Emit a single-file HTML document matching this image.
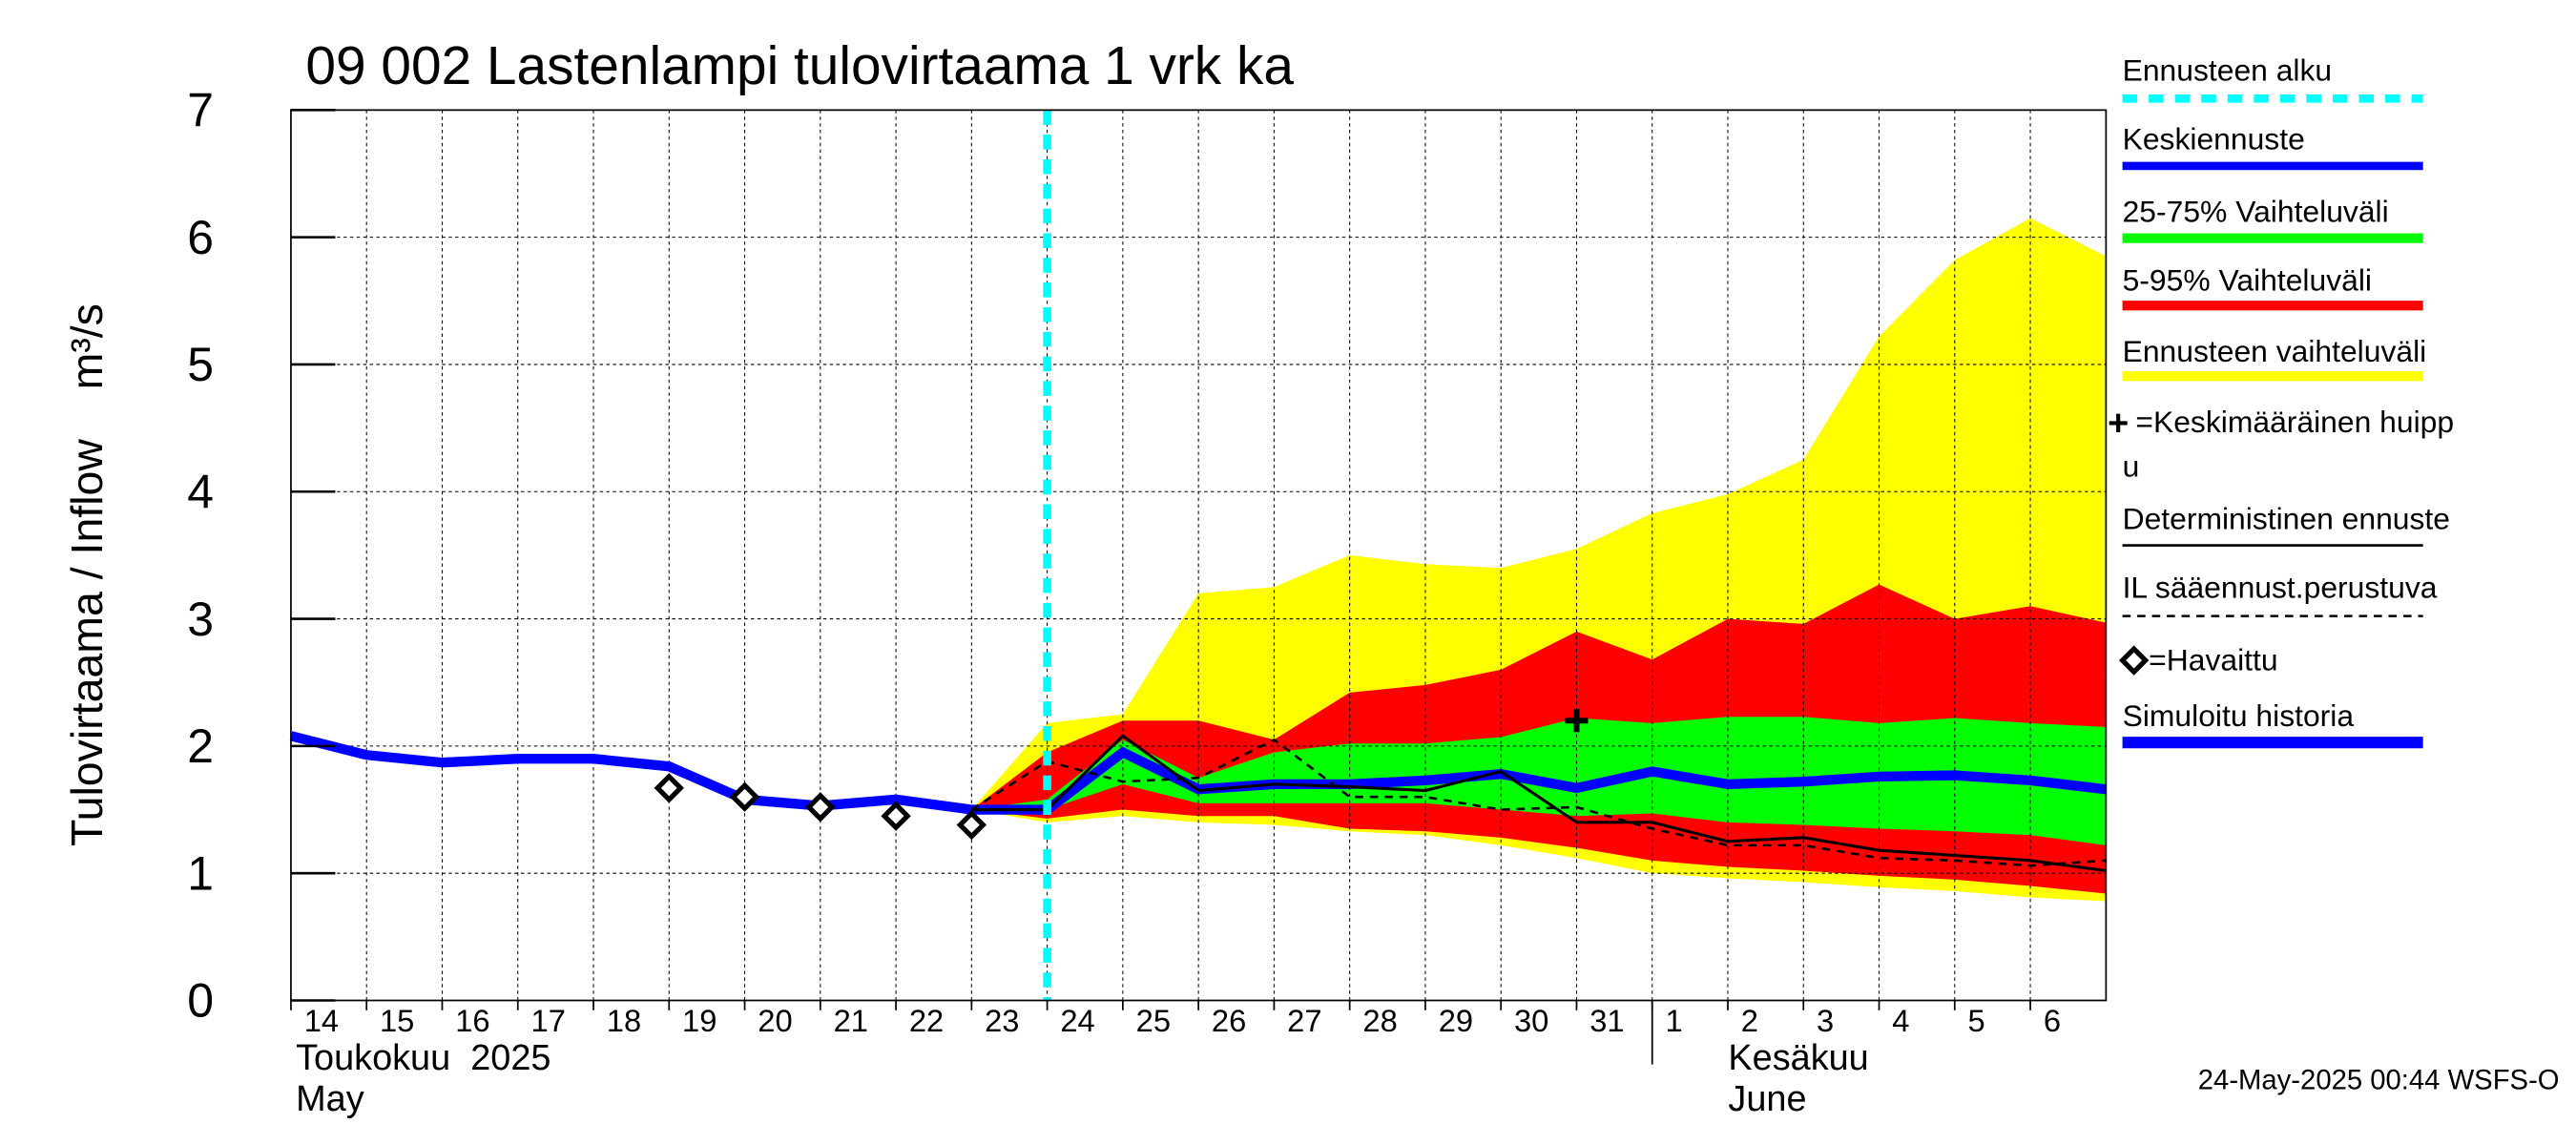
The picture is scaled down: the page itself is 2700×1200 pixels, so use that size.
<!DOCTYPE html>
<html><head><meta charset="utf-8"><style>
html,body{margin:0;padding:0;background:#fff;}
svg{display:block;font-family:"Liberation Sans",sans-serif;}
</style></head><body>
<svg id="chart" width="2700" height="1200" viewBox="0 0 1568 697" xmlns="http://www.w3.org/2000/svg">
<rect width="1568" height="697" fill="#fff"/>
<g id="bands"></g>
<g id="grid"></g>
<g id="lines"></g>
<rect x="177" y="67" width="1105" height="542" fill="none" stroke="#000" stroke-width="1"/>
<text x="186" y="51" font-size="33">09 002 Lastenlampi tulovirtaama 1 vrk ka</text>
<text transform="translate(62,350) rotate(-90)" text-anchor="middle" font-size="27">Tulovirtaama / Inflow&#160;&#160;&#160;&#160;m³/s</text>
<g id="yticks"></g>
<g id="xticks"></g>
<text x="180" y="651" font-size="22">Toukokuu&#160;&#160;2025</text>
<text x="180" y="676" font-size="22">May</text>
<text x="1052" y="651" font-size="22">Kesäkuu</text>
<text x="1052" y="676" font-size="22">June</text>
<text x="1558" y="663" text-anchor="end" font-size="17">24-May-2025 00:44 WSFS-O</text>
<g id="legend" font-size="18.5">
<g><text x="1292" y="49">Ennusteen alku</text><line x1="1292" y1="60" x2="1475" y2="60" stroke="#00ffff" stroke-width="5" stroke-dasharray="9,7"/></g>
<g><text x="1292" y="91">Keskiennuste</text><line x1="1292" y1="101" x2="1475" y2="101" stroke="#0000ff" stroke-width="5"/></g>
<g><text x="1292" y="135">25-75% Vaihteluväli</text><line x1="1292" y1="145" x2="1475" y2="145" stroke="#00ff00" stroke-width="6"/></g>
<g><text x="1292" y="177">5-95% Vaihteluväli</text><line x1="1292" y1="186" x2="1475" y2="186" stroke="#ff0000" stroke-width="6"/></g>
<g><text x="1292" y="220">Ennusteen vaihteluväli</text><line x1="1292" y1="229" x2="1475" y2="229" stroke="#ffff00" stroke-width="6"/></g>
<g><text x="1283" y="265" font-weight="bold" font-size="22">+</text><text x="1300" y="263">=Keskimääräinen huipp</text><text x="1292" y="290">u</text></g>
<g><text x="1292" y="322">Deterministinen ennuste</text><line x1="1292" y1="332" x2="1475" y2="332" stroke="#000" stroke-width="1.5"/></g>
<g><text x="1292" y="364">IL sääennust.perustuva</text><line x1="1292" y1="375" x2="1475" y2="375" stroke="#000" stroke-width="1.5" stroke-dasharray="5,4"/></g>
<g><path d="M1292,402 l7,-7 l7,7 l-7,7z" fill="none" stroke="#000" stroke-width="3"/><text x="1308" y="408">=Havaittu</text></g>
<g><text x="1292" y="442">Simuloitu historia</text><line x1="1292" y1="452" x2="1475" y2="452" stroke="#0000ff" stroke-width="7"/></g>
</g>
</svg>
<script>
const days=["14","15","16","17","18","19","20","21","22","23","24","25","26","27","28","29","30","31","1","2","3","4","5","6"];
const yTicks=[0,1,2,3,4,5,6,7];
const simulated=[2.08,1.93,1.87,1.90,1.90,1.84,1.58,1.53,1.58,1.50,1.50,1.95,1.66,1.70,1.70,1.73,1.78,1.67,1.80,1.70,1.72,1.76,1.77,1.73,1.66];
const observedIdx=[5,6,7,8,9];
const observedVal=[1.67,1.60,1.52,1.45,1.38];
const fcStart=9;
const yellowHi=[1.50,2.18,2.25,3.20,3.25,3.50,3.43,3.40,3.55,3.83,3.98,4.25,5.22,5.82,6.15,5.85];
const yellowLo=[1.50,1.40,1.45,1.40,1.38,1.33,1.30,1.22,1.12,1.00,0.96,0.93,0.89,0.86,0.81,0.78];
const redHi=[1.50,1.95,2.20,2.20,2.05,2.42,2.48,2.60,2.90,2.68,3.00,2.96,3.27,3.00,3.10,2.97];
const redLo=[1.50,1.43,1.50,1.45,1.45,1.35,1.33,1.28,1.20,1.10,1.05,1.02,0.98,0.95,0.90,0.84];
const greenHi=[1.50,1.58,2.05,1.75,1.95,2.02,2.02,2.07,2.22,2.18,2.23,2.23,2.18,2.22,2.18,2.15];
const greenLo=[1.50,1.50,1.70,1.55,1.55,1.55,1.55,1.50,1.45,1.47,1.40,1.38,1.35,1.33,1.30,1.22];
const determ=[1.50,1.50,2.08,1.65,1.70,1.68,1.65,1.80,1.40,1.40,1.25,1.28,1.18,1.14,1.10,1.02];
const ilDashed=[1.50,1.88,1.72,1.75,2.05,1.60,1.60,1.50,1.52,1.35,1.22,1.22,1.12,1.10,1.06,1.10];
const peakIdx=17, peakVal=2.2;
const forecastStartIdx=10;
const monthSplitIdx=18;

const NS="http://www.w3.org/2000/svg";
const X=i=>177+i*46.04;
const Y=v=>609-v*77.43;
function mk(tag,attrs,parent){const e=document.createElementNS(NS,tag);for(const k in attrs)e.setAttribute(k,attrs[k]);document.getElementById(parent).appendChild(e);return e;}
function band(hi,lo,color,name){
  let d="";hi.forEach((v,i)=>{d+=(i?"L":"M")+X(fcStart+i)+","+Y(v);});
  for(let i=lo.length-1;i>=0;i--)d+="L"+X(fcStart+i)+","+Y(lo[i]);
  const p=mk("path",{d:d+"Z",fill:color},"bands");
  
  
}
band(yellowHi,yellowLo,"#ffff00","band-forecast-range");
band(redHi,redLo,"#ff0000","band-5-95");
band(greenHi,greenLo,"#00ff00","band-25-75");
for(let i=1;i<=24;i++){const l=mk("line",{x1:X(i),x2:X(i),y1:67,y2:609,stroke:"#000","stroke-width":0.6,"stroke-dasharray":"2,2"},"grid");

}
yTicks.forEach(v=>{if(v>0&&v<7){const l=mk("line",{x1:177,x2:1282,y1:Y(v),y2:Y(v),stroke:"#000","stroke-width":0.6,"stroke-dasharray":"2,2"},"grid");

}
const t=mk("line",{x1:177,x2:204,y1:Y(v),y2:Y(v),stroke:"#000","stroke-width":1.5},"yticks");


const tx=mk("text",{x:130,y:Y(v)+10,"text-anchor":"end","font-size":29},"yticks");tx.textContent=v;

});
days.forEach((d,i)=>{const tx=mk("text",{x:X(i)+8,y:628,"font-size":19},"xticks");tx.textContent=d;


const tk=mk("line",{x1:X(i),x2:X(i),y1:609,y2:615,stroke:"#000"},"xticks");

});
const ms=mk("line",{x1:X(monthSplitIdx),x2:X(monthSplitIdx),y1:609,y2:648,stroke:"#000"},"xticks");


function line(vals,start,attrs,name){let d="";vals.forEach((v,i)=>{d+=(i?"L":"M")+X(start+i)+","+Y(v);});
const p=mk("path",Object.assign({d:d,fill:"none"},attrs),"lines");

}
line(simulated,0,{stroke:"#0000ff","stroke-width":6},"simulated-mean-line");
line(ilDashed,fcStart,{stroke:"#000","stroke-width":1.5,"stroke-dasharray":"5,4"},"il-weather-forecast-line");
line(determ,fcStart,{stroke:"#000","stroke-width":1.8},"deterministic-forecast-line");
const fl=mk("line",{x1:X(forecastStartIdx),x2:X(forecastStartIdx),y1:67,y2:609,stroke:"#00ffff","stroke-width":5,"stroke-dasharray":"9,6"},"lines");


observedIdx.forEach((i,k)=>{const x=X(i),y=Y(observedVal[k]);const p=mk("path",{d:`M${x-7},${y} L${x},${y-7} L${x+7},${y} L${x},${y+7}Z`,fill:"#fff",stroke:"#000","stroke-width":3},"lines");

});
const pk=mk("path",{d:`M${X(peakIdx)-7},${Y(peakVal)}h14M${X(peakIdx)},${Y(peakVal)-7}v14`,stroke:"#000","stroke-width":3.5},"lines");


</script>
</body></html>
